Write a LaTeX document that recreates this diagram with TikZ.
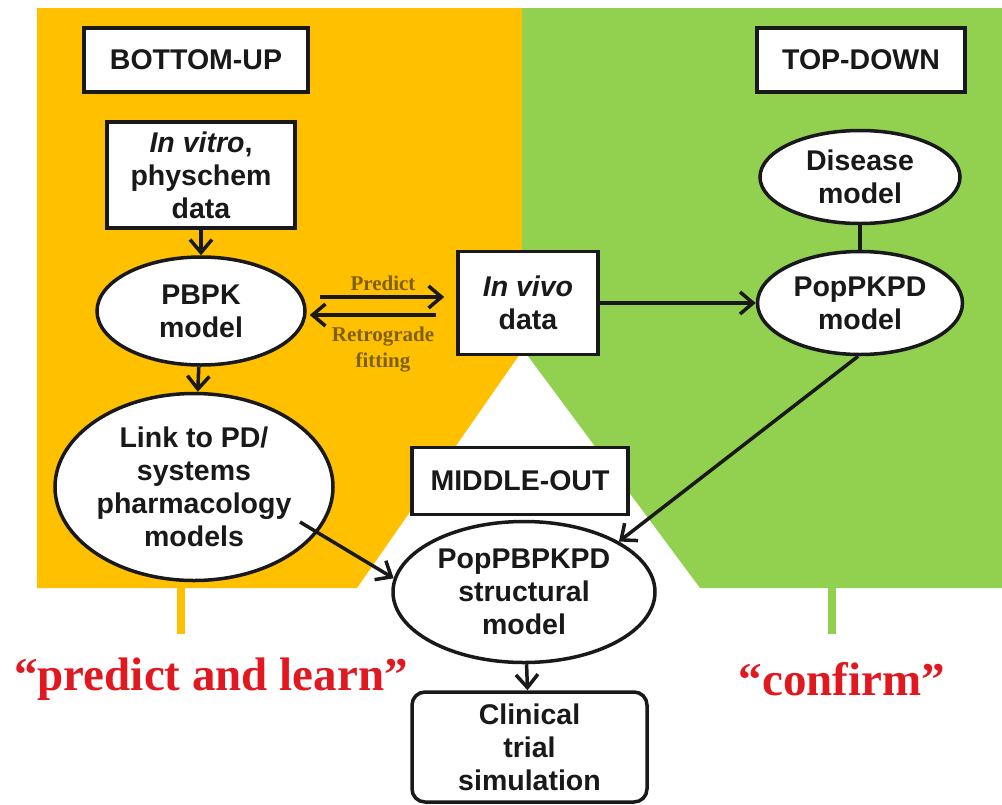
\documentclass[tikz,border=0pt]{standalone}
\usepackage{fontspec}
\setsansfont{Liberation Sans}
\newfontfamily\serifface{Liberation Serif}
\usetikzlibrary{shapes.geometric,arrows.meta}
\definecolor{gold}{RGB}{255,192,0}
\definecolor{leaf}{RGB}{146,208,80}
\definecolor{darkgold}{RGB}{127,96,0}
\definecolor{slogan}{RGB}{226,24,32}
\tikzset{
  lbl/.style={font=\sffamily\bfseries\fontsize{28.5}{33}\selectfont, align=center, inner sep=0pt, text=black!90},
  sqbox/.style={lbl, draw=black!90, line width=3.5pt, fill=white, rectangle},
  oval/.style={lbl, draw=black!90, line width=3.5pt, fill=white, ellipse},
  arr/.style={draw=black!90, line width=3.5pt, -{Straight Barb[length=13pt,width=22pt,line width=3.5pt]}},
  plain/.style={draw=black!90, line width=3.5pt},
  note/.style={font=\serifface\bfseries\fontsize{21}{25}\selectfont, text=darkgold, inner sep=0pt},
  motto/.style={font=\serifface\bfseries\fontsize{47}{50}\selectfont, text=slogan, inner sep=0pt}
}
\begin{document}
\begin{tikzpicture}[x=1pt,y=-1pt]
\useasboundingbox[fill=white] (0,0) rectangle (1002,804);
% coloured approach regions
\fill[gold] (37,8) -- (522,8) -- (522,351) -- (357,588) -- (37,588) -- cycle;
\fill[leaf] (522,8) -- (1002,8) -- (1002,588) -- (700,588) -- (522,348) -- cycle;
\fill[gold] (177,588) rectangle (185,634);
\fill[leaf] (828,588) rectangle (836,634);

% headings
\node[sqbox, minimum width=224pt, minimum height=64pt] (bu) at (196,60) {BOTTOM-UP};
\node[sqbox, minimum width=208pt, minimum height=64pt] (td) at (861,60) {TOP-DOWN};
\node[sqbox, minimum width=216pt, minimum height=67pt] (mo) at (520,481) {MIDDLE-OUT};

% bottom-up chain
\node[sqbox, minimum width=188pt, minimum height=106pt] (vitro) at (201,175) {\textit{In vitro},\\physchem\\data};
\node[oval, minimum width=208pt, minimum height=108pt] (pbpk) at (201,311) {PBPK\\model};
\node[oval, minimum width=278pt, minimum height=187pt] (link) at (194,487) {Link to PD/\\systems\\pharmacology\\models};

% data and top-down chain
\node[sqbox, minimum width=140pt, minimum height=103pt] (vivo) at (528,303) {\textit{In vivo}\\data};
\node[oval, minimum width=200pt, minimum height=93pt] (disease) at (860,177) {Disease\\model};
\node[oval, minimum width=205pt, minimum height=103pt] (popkpd) at (860,303) {PopPKPD\\model};

% middle-out
\node[oval, minimum width=262pt, minimum height=141pt] (pp) at (524,592) {PopPBPKPD\\structural\\model};
\node[sqbox, rounded corners=13pt, minimum width=235pt, minimum height=110pt] (cts) at (529.5,747) {Clinical\\trial\\simulation};

% connectors
\draw[arr] (vitro) -- (pbpk);
\draw[arr] (pbpk) -- (link);
\draw[arr] ([xshift=13pt,yshift=14pt]pbpk.east) -- ([xshift=-12pt,yshift=6pt]vivo.west);
\draw[arr] ([xshift=-20pt,yshift=-12pt]vivo.west) -- ([xshift=3pt,yshift=-4pt]pbpk.east);
\draw[arr] (vivo.east) -- (popkpd.west);
\draw[plain] (disease) -- (popkpd);
\draw[arr] (popkpd.268) -- (pp.28);
\coordinate (linkout) at (300,522);
\draw[arr] (linkout) -- (pp.174);
\draw[arr] (pp) -- (cts);

% arrow labels
\node[note] (predict) at (383,283) {Predict};
\node[note] (retro) at (383,337) {Retrograde};
\node[note] (fit) at (383,362) {fitting};

% mottos
\node[motto] (learn) at (211,679) {“predict and learn”};
\node[motto] (confirm) at (842,679) {“confirm”};
\end{tikzpicture}
\end{document}
